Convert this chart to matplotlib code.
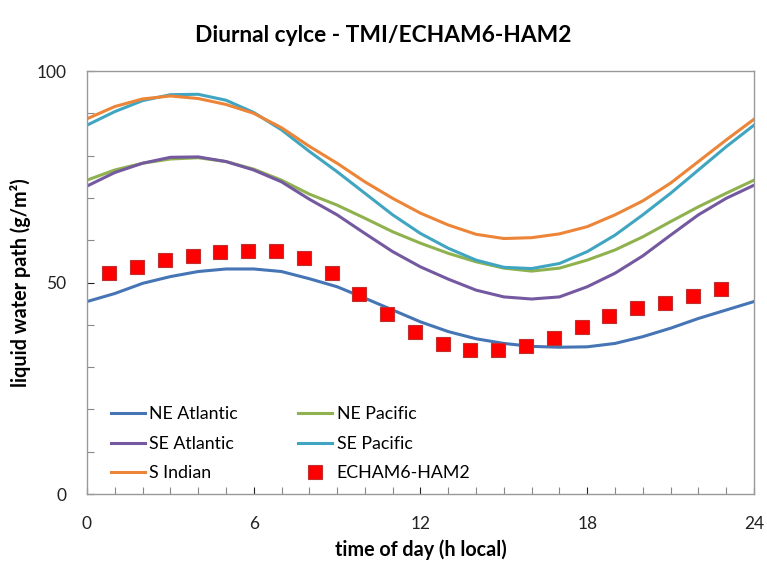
import numpy as np
import matplotlib
matplotlib.use('Agg')
import matplotlib.pyplot as plt
from matplotlib.ticker import MultipleLocator

plt.rcParams['font.family'] = ['Lato', 'DejaVu Sans']

# hourly means of liquid water path (g/m2), 0..24 h local time
hours = list(range(25))
ne_atlantic = [45.5, 47.4, 49.8, 51.4, 52.6, 53.2, 53.2, 52.6, 50.9, 49.0, 46.3, 43.5, 40.7,
               38.4, 36.7, 35.6, 34.9, 34.7, 34.8, 35.6, 37.2, 39.2, 41.5, 43.5, 45.5]
ne_pacific = [74.2, 76.6, 78.2, 79.2, 79.5, 78.6, 76.8, 74.2, 70.9, 68.3, 65.2, 62.0, 59.3,
              56.9, 54.9, 53.4, 52.7, 53.4, 55.3, 57.7, 60.8, 64.4, 67.9, 71.1, 74.2]
se_atlantic = [72.8, 76.0, 78.2, 79.6, 79.7, 78.6, 76.6, 73.8, 69.7, 66.0, 61.6, 57.3, 53.7,
               50.8, 48.2, 46.6, 46.1, 46.6, 49.0, 52.2, 56.3, 61.2, 66.0, 69.9, 73.0]
se_pacific = [87.2, 90.4, 93.0, 94.4, 94.5, 93.1, 90.2, 86.1, 81.0, 76.2, 71.1, 66.0, 61.6,
              58.1, 55.3, 53.6, 53.3, 54.5, 57.3, 61.2, 66.0, 71.1, 76.6, 82.1, 87.2]
s_indian = [88.7, 91.6, 93.4, 94.1, 93.5, 92.1, 90.0, 86.6, 82.2, 78.2, 73.8, 69.9, 66.4,
            63.6, 61.4, 60.4, 60.6, 61.5, 63.2, 66.0, 69.3, 73.5, 78.6, 83.7, 88.6]

# model output, one value per hour
model_hours = [h + 0.8 for h in range(23)]
echam = [52.3, 53.7, 55.3, 56.3, 57.1, 57.5, 57.5, 55.9, 52.3, 47.4, 42.5, 38.4, 35.4,
         34.0, 34.0, 35.1, 37.0, 39.4, 42.1, 44.0, 45.2, 46.8, 48.4]

fig = plt.figure(figsize=(7.67, 5.61), dpi=100)
ax = fig.add_axes([0.1134, 0.1194, 0.8696, 0.754])

lw = 2.2
l1, = ax.plot(hours, ne_atlantic, color='#4575b5', lw=lw, label='NE Atlantic')
l2, = ax.plot(hours, ne_pacific, color='#8fb24f', lw=lw, label='NE Pacific')
l3, = ax.plot(hours, se_atlantic, color='#7459a0', lw=lw, label='SE Atlantic')
l4, = ax.plot(hours, se_pacific, color='#40a5c0', lw=lw, label='SE Pacific')
l5, = ax.plot(hours, s_indian, color='#ec8537', lw=lw, label='S Indian')
l6, = ax.plot(model_hours, echam, ls='none', marker='s', ms=9.5, mfc='#ff0000',
              mec='#c03030', mew=0.8, label='ECHAM6-HAM2')

ax.set_xlim(0, 24)
ax.set_ylim(0, 100)
ax.xaxis.set_major_locator(MultipleLocator(6))
ax.xaxis.set_minor_locator(MultipleLocator(1))
ax.yaxis.set_major_locator(MultipleLocator(50))
ax.yaxis.set_minor_locator(MultipleLocator(10))
ax.tick_params(which='both', direction='in', length=5, color='#888888', width=0.8)
ax.tick_params(labelsize=12.5, colors='#222222')
ax.tick_params(axis='y', pad=15)
ax.tick_params(axis='x', pad=16)
for s in ax.spines.values():
    s.set_color('#999999')
    s.set_linewidth(1.0)

# title is centred on the whole figure, not on the plot area
fig.text(0.5, 1 - 35 / 561, 'Diurnal cylce - TMI/ECHAM6-HAM2', fontsize=16.4,
         fontweight='bold', ha='center', va='center')
ax.set_xlabel('time of day (h local)', fontsize=14.2, fontweight='bold', va='center')
ax.set_ylabel('liquid water path (g/m²)', fontsize=14.2, fontweight='bold', va='center')
ax.xaxis.set_label_coords(0.5, -0.132)
ax.yaxis.set_label_coords(-0.100, 0.5)

leg = ax.legend([l1, l3, l5, l2, l4, l6],
                ['NE Atlantic', 'SE Atlantic', 'S Indian', 'NE Pacific', 'SE Pacific', 'ECHAM6-HAM2'],
                ncol=2, loc='lower left', bbox_to_anchor=(0.012, -0.008), frameon=False,
                fontsize=12.8, handlelength=1.9, handletextpad=0.25, columnspacing=3.4,
                labelspacing=0.76)

fig.savefig('out.png', dpi=100)
